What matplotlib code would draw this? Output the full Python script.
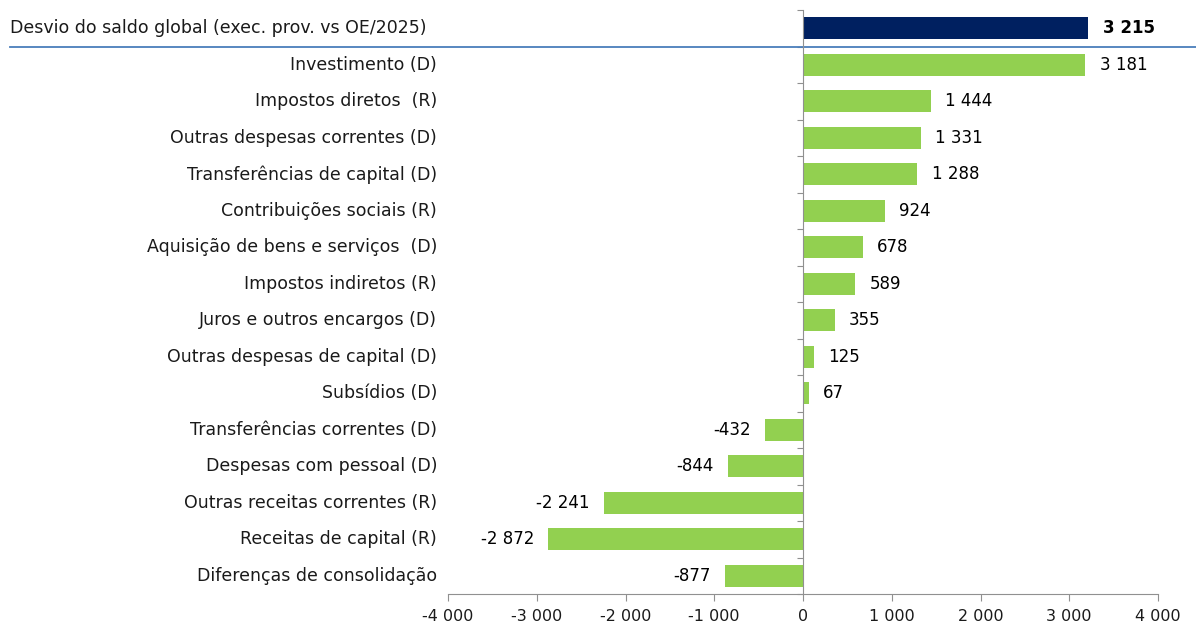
import matplotlib
matplotlib.use("Agg")
import matplotlib.pyplot as plt
import matplotlib.transforms as mtransforms

plt.rcParams['font.family'] = ['DejaVu Sans']

# categories top to bottom
categories = [
    "Desvio do saldo global (exec. prov. vs OE/2025)",
    "Investimento (D)",
    "Impostos diretos  (R)",
    "Outras despesas correntes (D)",
    "Transferências de capital (D)",
    "Contribuições sociais (R)",
    "Aquisição de bens e serviços  (D)",
    "Impostos indiretos (R)",
    "Juros e outros encargos (D)",
    "Outras despesas de capital (D)",
    "Subsídios (D)",
    "Transferências correntes (D)",
    "Despesas com pessoal (D)",
    "Outras receitas correntes (R)",
    "Receitas de capital (R)",
    "Diferenças de consolidação",
]
values = [3215, 3181, 1444, 1331, 1288, 924, 678, 589, 355, 125, 67,
          -432, -844, -2241, -2872, -877]
xticks = [-4000, -3000, -2000, -1000, 0, 1000, 2000, 3000, 4000]


def fmt(v):
    return f"{v:,}".replace(",", " ")


fig = plt.figure(figsize=(11.96, 6.26), dpi=100)
ax = fig.add_axes([448 / 1196, 1 - 594 / 626, 710 / 1196, 584 / 626])

colors = ["#002060"] + ["#92D050"] * (len(values) - 1)
ypos = list(range(len(values)))
ax.barh(ypos, values, height=0.6, color=colors)

ax.set_xlim(-4000, 4000)
ax.set_ylim(len(values) - 0.5, -0.5)

# spines
for s in ["top", "right"]:
    ax.spines[s].set_visible(False)
ax.spines["left"].set_position(("data", 0))
ax.spines["left"].set_color("#909090")
ax.spines["bottom"].set_color("#909090")

ax.set_xticks(xticks)
ax.set_xticklabels([fmt(t) for t in xticks], fontsize=11.5, color="#1a1a1a")
ax.tick_params(axis="x", direction="out", length=5, color="#909090", pad=6)

ax.set_yticks([i - 0.5 for i in range(len(values) + 1)])
ax.set_yticklabels([])
ax.tick_params(axis="y", direction="out", length=4, color="#909090")

# category labels
trans = mtransforms.blended_transform_factory(fig.transFigure, ax.transData)
for i, c in enumerate(categories):
    if i == 0:
        ax.text(10 / 1196, i, c, transform=trans, ha="left", va="center",
                fontsize=12.5, color="#1a1a1a")
    else:
        ax.text(437 / 1196, i, c, transform=trans, ha="right", va="center",
                fontsize=12.5, color="#1a1a1a")

# value labels
for i, v in enumerate(values):
    off = 160 if v >= 0 else -160
    ha = "left" if v >= 0 else "right"
    ax.text(v + off, i, fmt(v), ha=ha, va="center", fontsize=12,
            color="#000000", fontweight="bold" if i == 0 else "normal")

# separator line under the total
ax.axhline(0.5, xmin=-438 / 710, xmax=748 / 710, color="#4a7ebb",
           linewidth=1.3, clip_on=False)

fig.savefig("out.png", dpi=100)
